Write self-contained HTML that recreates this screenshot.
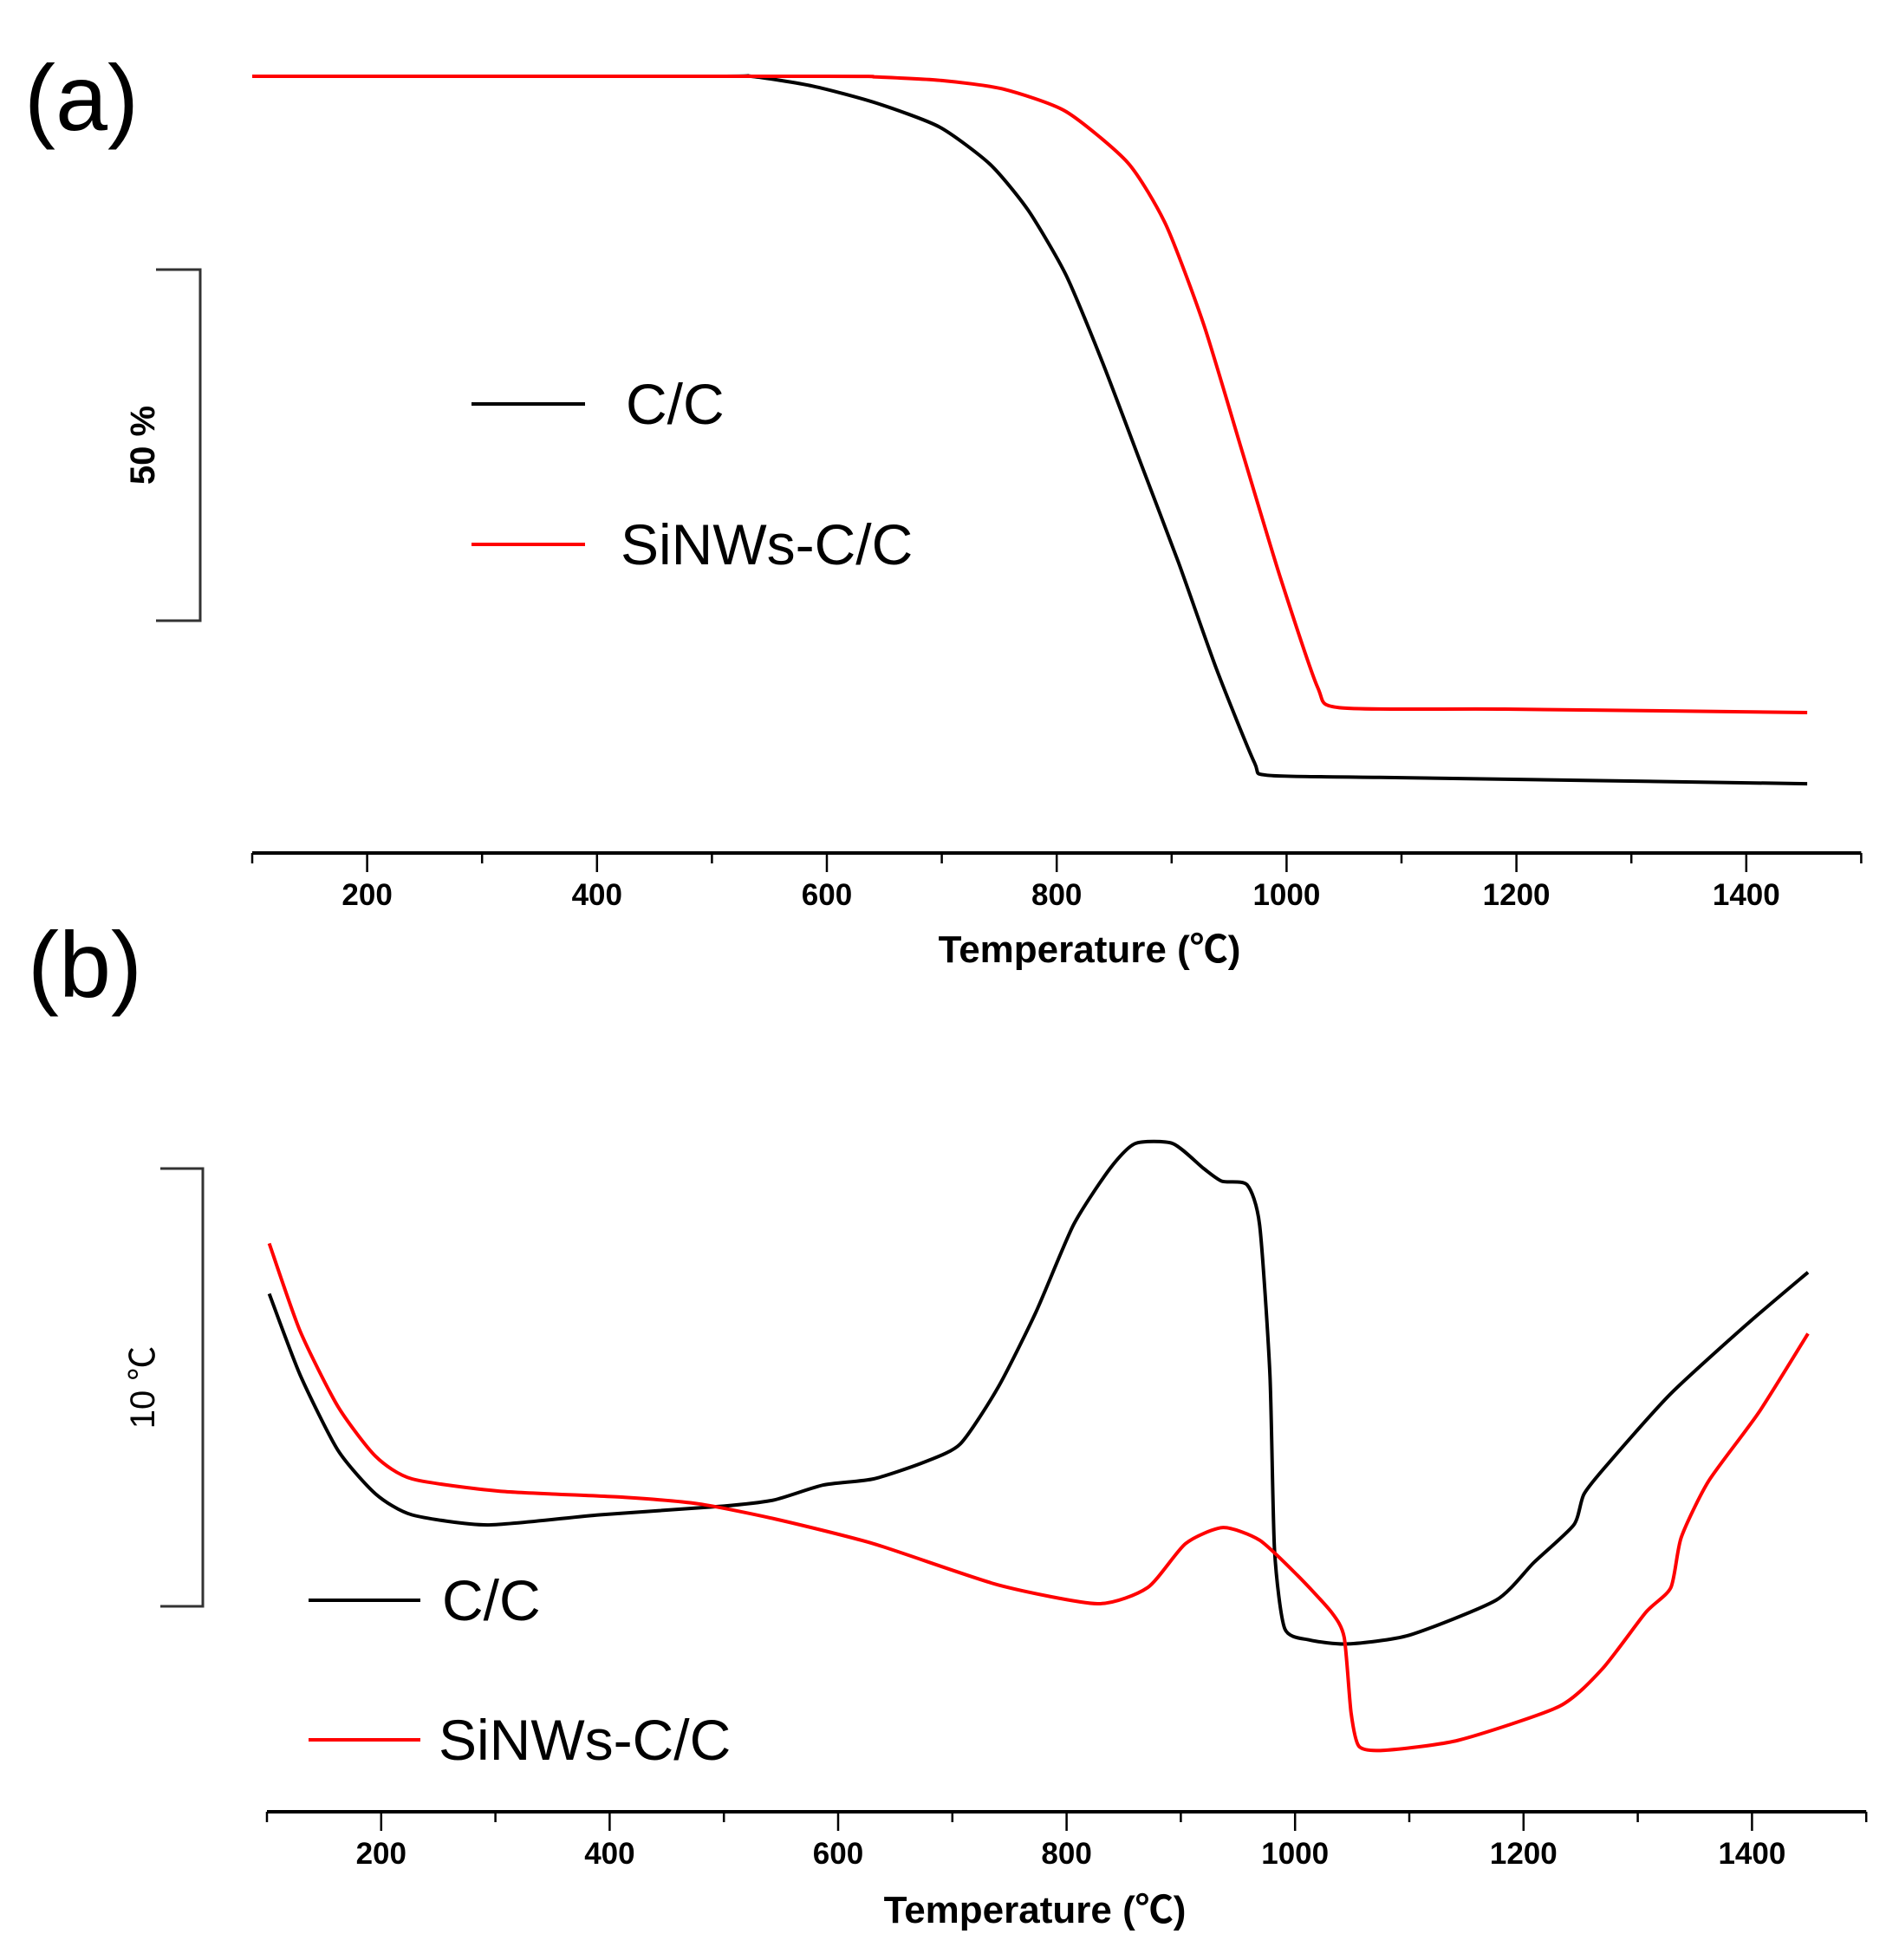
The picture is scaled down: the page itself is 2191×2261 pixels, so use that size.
<!DOCTYPE html>
<html><head><meta charset="utf-8"><style>
html,body{margin:0;padding:0;background:#fff;}
svg{display:block;font-family:"Liberation Sans","Noto Sans CJK SC",sans-serif;}
</style></head><body>
<svg id="fig" width="2191" height="2261" viewBox="0 0 2191 2261" xmlns="http://www.w3.org/2000/svg">
<text x="28" y="150" font-size="108">(a)</text>
<text x="32" y="1150" font-size="108">(b)</text>
<g id="pa"></g>
<g id="pb"></g>
</svg>
<script>
// Panel (a) TGA data
const aTempBlack=[100,500,534,588,643,698,742,775,808,840,873,906,939,972,983,1081,1453];
const aValBlack=[100,100,100,98.6,96.2,92.8,87.5,81.0,71.8,59.3,45.1,30.9,15.8,2.5,0.7,0.4,-0.5];
const aTempRed=[100,600,643,700,753,808,862,895,928,961,994,1027,1046,1190,1453];
const aValRed=[100,100,99.9,99.4,98.2,95.0,87.7,78.9,64.7,46.9,29.1,13.2,10.3,10.1,9.6];
// Panel (b) DTA data
const bTempBlack=[102,129,162,195,227,293,391,500,544,587,631,675,707,740,773,806,838,860,893,920,936,958,969,978,982,991,1013,1046,1100,1176,1209,1244,1253,1275,1329,1395,1449];
const bValBlack=[7.14,5.29,3.57,2.57,2.09,1.86,2.09,2.29,2.43,2.77,2.91,3.29,3.71,5.0,6.71,8.71,10.0,10.57,10.57,10.0,9.71,9.63,8.71,5.29,1.29,-0.51,-0.77,-0.86,-0.66,0.14,1.0,1.86,2.57,3.29,4.86,6.43,7.63];
const bTempRed=[102,129,162,195,227,304,413,478,544,631,740,827,871,904,937,969,1002,1032,1043,1049,1056,1078,1143,1231,1269,1307,1329,1338,1362,1406,1449];
const bValRed=[8.29,6.29,4.57,3.43,2.91,2.63,2.49,2.34,2.0,1.43,0.49,0.06,0.43,1.43,1.8,1.51,0.71,-0.14,-0.71,-2.43,-3.2,-3.29,-3.06,-2.29,-1.43,-0.14,0.43,1.57,2.86,4.43,6.23];
const tickLabels=[200,400,600,800,1000,1200,1400];

const NS="http://www.w3.org/2000/svg";
function mk(parent,tag,attrs,text){const e=document.createElementNS(NS,tag);for(const k in attrs)e.setAttribute(k,attrs[k]);if(text!==undefined)e.textContent=text;parent.appendChild(e);return e;}
function smooth(pts){const k=1/9;let d="M"+pts[0][0]+","+pts[0][1];for(let i=0;i<pts.length-1;i++){const p0=pts[Math.max(0,i-1)],p1=pts[i],p2=pts[i+1],p3=pts[Math.min(pts.length-1,i+2)];const c1=[p1[0]+(p2[0]-p0[0])*k,p1[1]+(p2[1]-p0[1])*k],c2=[p2[0]-(p3[0]-p1[0])*k,p2[1]-(p3[1]-p1[1])*k];d+=" C"+c1[0].toFixed(1)+","+c1[1].toFixed(1)+" "+c2[0].toFixed(1)+","+c2[1].toFixed(1)+" "+p2[0].toFixed(1)+","+p2[1].toFixed(1);}return d;}

function panel(g,xs,ys,axisY,labelY,titleX,titleY,series,bar,barLabel,barBold,leg){
  const ax=mk(g,"line",{x1:xs(100),x2:xs(1500),y1:axisY,y2:axisY,stroke:"#000","stroke-width":4});
  
  
  for(let t=100;t<=1500;t+=100){
    const major=t%200===0;
    const tk=mk(g,"line",{x1:xs(t),x2:xs(t),y1:axisY,y2:axisY+(major?22:12),stroke:"#000","stroke-width":2.5});
    
    
  }
  tickLabels.forEach(t=>{
    const l=mk(g,"text",{x:xs(t),y:labelY,"font-size":35,"font-weight":"bold","text-anchor":"middle"},String(t));
    
    
  });
  const tt=mk(g,"text",{x:titleX,y:titleY,"font-size":44,"font-weight":"bold","text-anchor":"middle"},"Temperature (℃)");
  
  
  const sb=mk(g,"path",{d:`M${bar.x0},${bar.y0} H${bar.x} V${bar.y1} H${bar.x0}`,fill:"none",stroke:"#333","stroke-width":3});
  
  
  const sl=mk(g,"text",{x:0,y:0,"font-size":40,"font-weight":barBold?"bold":"normal","text-anchor":"middle",transform:`translate(${bar.lx},${(bar.y0+bar.y1)/2}) rotate(-90)`},barLabel);
  
  
  series.forEach(s=>{
    const pts=s.t.map((t,i)=>[xs(t),ys(s.v[i])]);
    const p=mk(g,"path",{d:smooth(pts),fill:"none",stroke:s.c,"stroke-width":4,"stroke-linejoin":"round"});
    
    
  });
  leg.forEach(l=>{
    const ll=mk(g,"line",{x1:l.x0,x2:l.x1,y1:l.y,y2:l.y,stroke:l.c,"stroke-width":4});
    
    
    const lt=mk(g,"text",{x:l.tx,y:l.y+23,"font-size":66},l.label);
    
    
  });
}
const xa=t=>291+(t-100)*1.326, ya=v=>88+(100-v)*8.12;
panel(document.getElementById("pa"),xa,ya,984,1044,1257,1110,
 [{t:aTempBlack,v:aValBlack,c:"#000",name:"cc-tga-curve"},{t:aTempRed,v:aValRed,c:"#ff0000",name:"sinws-tga-curve"}],
 {x0:180,x:231,y0:311,y1:716,lx:178},"50 %",true,
 [{x0:544,x1:675,y:466,c:"#000",tx:722,label:"C/C"},{x0:544,x1:675,y:628,c:"#ff0000",tx:716,label:"SiNWs-C/C"}]);
const xb=t=>308+(t-100)*1.318, yb=v=>1853-v*50.5;
panel(document.getElementById("pb"),xb,yb,2090,2150,1194,2218,
 [{t:bTempBlack,v:bValBlack,c:"#000",name:"cc-dta-curve"},{t:bTempRed,v:bValRed,c:"#ff0000",name:"sinws-dta-curve"}],
 {x0:185,x:234,y0:1348,y1:1853,lx:178},"10 ℃",false,
 [{x0:356,x1:485,y:1846,c:"#000",tx:510,label:"C/C"},{x0:356,x1:485,y:2007,c:"#ff0000",tx:506,label:"SiNWs-C/C"}]);
</script>
</body></html>
